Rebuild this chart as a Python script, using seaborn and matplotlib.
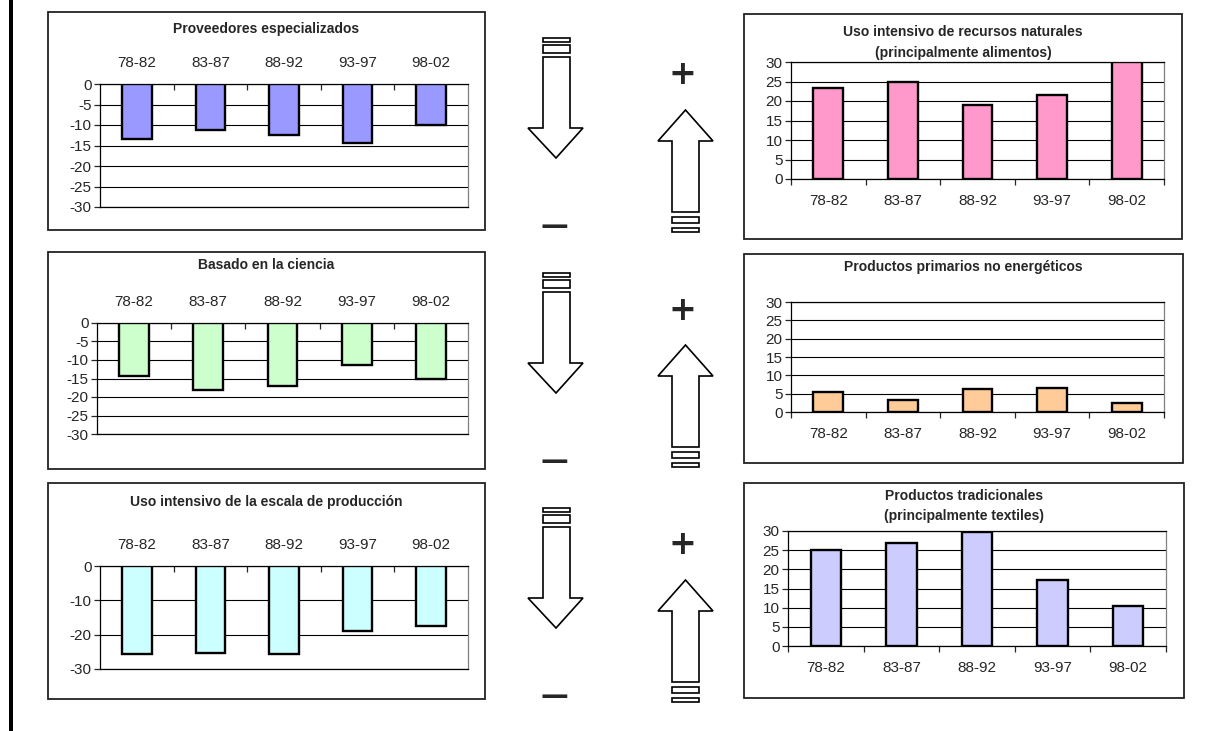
import matplotlib
matplotlib.use("Agg")
import matplotlib.pyplot as plt
import seaborn as sns
import pandas as pd
from matplotlib.patches import Rectangle, Polygon

# Data
periods = ["78-82", "83-87", "88-92", "93-97", "98-02"]
proveedores = [-13.4, -11.2, -12.4, -14.5, -10.1]
ciencia = [-14.4, -18.1, -17.1, -11.4, -15.1]
escala = [-25.6, -25.2, -25.6, -19.0, -17.5]
recursos = [23.4, 24.8, 19.1, 21.5, 30.0]
primarios = [5.5, 3.3, 6.4, 6.5, 2.5]
tradicionales = [25.0, 26.8, 29.8, 17.2, 10.5]

sns.set_style("ticks")
plt.rcParams["font.family"] = ["Liberation Sans", "DejaVu Sans"]
plt.rcParams["axes.unicode_minus"] = False

W, H = 1205, 731
fig = plt.figure(figsize=(W / 100, H / 100), dpi=100)

# overlay axes in pixel coordinates for boxes, arrows and titles
ov = fig.add_axes([0, 0, 1, 1])
ov.set_xlim(0, W)
ov.set_ylim(H, 0)
ov.axis("off")
ov.set_zorder(-1)


def px_axes(x0, y0, x1, y1):
    return fig.add_axes([x0 / W, 1 - y1 / H, (x1 - x0) / W, (y1 - y0) / H])


def panel(box, area, title, title_y, values, color, negative):
    bx0, by0, bx1, by1 = box
    ov.add_patch(Rectangle((bx0, by0), bx1 - bx0, by1 - by0, fill=False,
                           ec="#222222", lw=1.3))
    ov.text((bx0 + bx1) / 2, title_y, title, ha="center", va="center",
            fontsize=10, fontweight="bold", linespacing=1.6)

    ax = px_axes(*area)
    df = pd.DataFrame({"periodo": periods, "valor": values})
    sns.barplot(data=df, x="periodo", y="valor", color=color, saturation=1,
                edgecolor="black", linewidth=1.7, width=0.4, ax=ax, zorder=3)
    ax.set_xlabel("")
    ax.set_ylabel("")
    ax.set_xlim(-0.5, 4.5)
    ax.yaxis.grid(True, color="black", lw=0.8)
    ax.set_axisbelow(True)
    for s in ax.spines.values():
        s.set_color("black")
        s.set_linewidth(0.9)
    ax.spines["right"].set_color("#808080")

    ax.tick_params(axis="y", length=4, width=0.9, pad=2, labelsize=11)
    ax.set_xticks(range(5))
    ax.set_xticklabels(periods, fontsize=11)
    if negative:
        ax.set_ylim(-30, 0)
        ax.xaxis.tick_top()
        ax.tick_params(axis="x", which="major", length=0, pad=10)
        ax.set_xticks([0.5, 1.5, 2.5, 3.5], minor=True)
        ax.tick_params(axis="x", which="minor", length=4, width=0.9,
                       direction="in", top=True, bottom=False)
    else:
        ax.set_ylim(0, 30)
        ax.tick_params(axis="x", which="major", length=0, pad=11)
        ax.set_xticks([-0.5, 0.5, 1.5, 2.5, 3.5, 4.5], minor=True)
        ax.tick_params(axis="x", which="minor", length=4, width=0.9,
                       direction="out", bottom=True)
    return ax


ax1 = panel((48, 12, 485, 230), (100, 84, 468, 207),
            "Proveedores especializados", 29, proveedores, "#9999FF", True)
ax1.set_yticks(range(-30, 1, 5))
ax2 = panel((48, 252, 485, 469), (97, 323, 468, 434),
            "Basado en la ciencia", 265, ciencia, "#CCFFCC", True)
ax2.set_yticks(range(-30, 1, 5))
ax3 = panel((48, 483, 485, 699), (100, 566, 468, 669),
            "Uso intensivo de la escala de producción", 502, escala, "#CCFFFF", True)
ax3.set_yticks(range(-30, 1, 10))
ax4 = panel((744, 14, 1182, 239), (791, 62, 1164, 179),
            "Uso intensivo de recursos naturales\n(principalmente alimentos)", 42.5,
            recursos, "#FF99CC", False)
ax4.set_yticks(range(0, 31, 5))
ax5 = panel((744, 254, 1183, 463), (791, 302, 1164, 412),
            "Productos primarios no energéticos", 267, primarios, "#FFCC99", False)
ax5.set_yticks(range(0, 31, 5))
ax6 = panel((744, 483, 1184, 698), (788, 531, 1166, 646),
            "Productos tradicionales\n(principalmente textiles)", 506,
            tradicionales, "#CCCCFF", False)
ax6.set_yticks(range(0, 31, 5))

# left page border
ov.add_patch(Rectangle((9, 0), 3.5, H, color="black", lw=0))

# arrows between the panel columns
for dy in [0, 235, 470]:
    down = [(543, 57), (570, 57), (570, 128), (583, 128), (556, 158),
            (528, 128), (543, 128)]
    ov.add_patch(Polygon([(x, y + dy) for x, y in down], closed=True,
                         fc="white", ec="black", lw=1.2))
    ov.add_patch(Rectangle((543, 38 + dy), 27, 3.5, fc="white", ec="black", lw=1.2))
    ov.add_patch(Rectangle((543, 45 + dy), 27, 8, fc="white", ec="black", lw=1.2))
    up = [(672, 212), (699, 212), (699, 141), (713, 141), (685.5, 110),
          (658, 141), (672, 141)]
    ov.add_patch(Polygon([(x, y + dy) for x, y in up], closed=True,
                         fc="white", ec="black", lw=1.2))
    ov.add_patch(Rectangle((672, 217 + dy), 27, 6, fc="white", ec="black", lw=1.2))
    ov.add_patch(Rectangle((672, 228 + dy), 27, 4, fc="white", ec="black", lw=1.2))
    ov.text(682, 75 + dy, "+", ha="center", va="center", fontsize=24,
            fontweight="heavy", family="DejaVu Sans")
    ov.text(554, 226 + dy, "—", ha="center", va="center", fontsize=20,
            fontweight="bold", family="DejaVu Sans")

plt.savefig("out.png", dpi=100)
